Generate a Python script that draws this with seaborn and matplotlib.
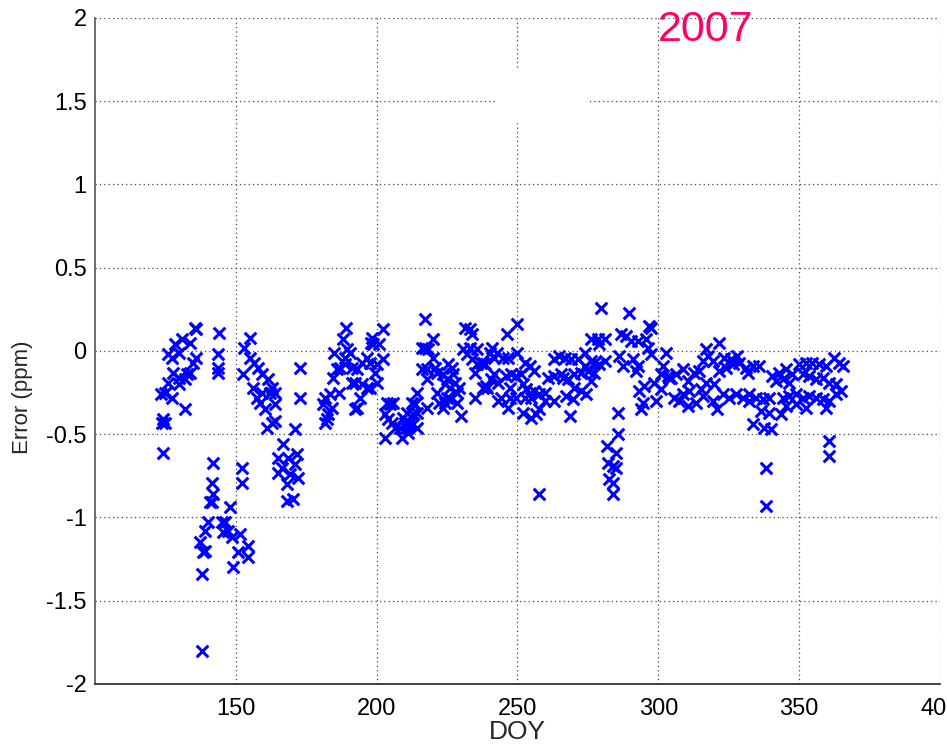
import matplotlib
matplotlib.use("Agg")
import matplotlib.pyplot as plt
from matplotlib.patches import Rectangle
import seaborn as sns
import pandas as pd

# ---- data (DOY, error in ppm) ----
doy_a = [135.5, 135.8, 144, 155, 131, 133.7, 128.4, 126, 127.3, 130, 136, 134.8, 143.6, 152.8, 155, 156.4,
         157.8, 159.2, 143.6, 143.6, 127.7, 130, 132.6, 132, 133.7, 126, 130, 152.5, 161.3, 162.8, 156, 159.2,
         162, 163.8, 123.4, 124.8, 127.3, 132, 157.4, 158.5, 160.3, 163.8, 172.7, 172.7, 124.1, 123.8, 124.8,
         162.8, 163.8, 161, 171, 124.1, 166.7, 164.9, 168.4, 171.6, 166.3, 170.9, 164.9, 169.1, 172, 168, 168,
         170.2, 141.8, 152.1, 152.1, 141.5, 141.8, 140.8, 141.5, 147.9, 140.1, 139, 145, 146.1, 145.4, 147.2,
         148.6, 151.4, 137.2, 138.3, 139, 154.3, 150.7, 154.3, 149, 137.9, 137.9]
err_a = [0.14, 0.13, 0.11, 0.08, 0.07, 0.05, 0.04, -0.02, -0.04, -0.01, -0.04, -0.07, -0.02, 0.02, -0.04, -0.07,
         -0.1, -0.14, -0.1, -0.13, -0.13, -0.16, -0.14, -0.17, -0.13, -0.19, -0.2, -0.14, -0.17, -0.22, -0.22, -0.25,
         -0.25, -0.25, -0.26, -0.25, -0.28, -0.35, -0.28, -0.31, -0.35, -0.32, -0.1, -0.28, -0.41, -0.43, -0.43,
         -0.43, -0.42, -0.46, -0.47, -0.61, -0.56, -0.64, -0.64, -0.62, -0.7, -0.68, -0.73, -0.74, -0.76, -0.8, -0.9,
         -0.89, -0.67, -0.7, -0.79, -0.79, -0.86, -0.91, -0.91, -0.94, -1.03, -1.08, -1.03, -1.03, -1.09, -1.08,
         -1.12, -1.1, -1.15, -1.21, -1.2, -1.17, -1.21, -1.24, -1.3, -1.34, -1.8]

doy_b = [189, 188, 185, 189.4, 190.4, 188.7, 198.2, 197.9, 198.6, 201, 202.1,
         186.9, 185.8, 188.7, 191.1, 192.9, 194.7, 196.5, 197.5, 200, 202.1, 199.3,
         184.4, 191.1, 192.2, 194.7, 196.5, 197.5, 200,
         181.6, 183.3, 186.5, 194, 192.9, 192.2, 180.9, 184, 182.6, 181.6, 182.3,
         203.5, 205.7, 204.6, 202.8, 203.9, 205.3, 206.4, 202.8, 208.9, 210.6, 212.4, 213.5, 212.8, 214.5,
         211.7, 212.8, 214.2, 210.6, 211, 208.2, 209.9, 209.2, 214.5, 217.7,
         217, 216, 217, 219.9, 218.1, 219.9, 216, 217.7, 217.7, 220.6, 221.6, 223.4, 225.2, 226.6, 227,
         224.8, 221.3, 224.1, 225.9, 227.7, 228.4, 229.4, 222.3, 224.1, 225.9, 228.4, 230.1, 224.8, 223.4,
         231.2, 233, 234, 230.5, 233, 235.8, 231.9, 234, 235.5, 237.2, 237.6, 234.8, 237.6, 239, 234.8]
err_b = [0.14, 0.07, -0.01, 0.01, -0.01, -0.04, 0.08, 0.05, 0.04, 0.04, 0.13,
         -0.1, -0.11, -0.08, -0.1, -0.11, -0.07, -0.04, -0.07, -0.08, -0.05, -0.13,
         -0.16, -0.19, -0.19, -0.2, -0.22, -0.22, -0.19,
         -0.28, -0.26, -0.25, -0.28, -0.34, -0.35, -0.32, -0.34, -0.38, -0.43, -0.41,
         -0.31, -0.31, -0.32, -0.38, -0.41, -0.43, -0.46, -0.52, -0.52, -0.37, -0.31, -0.32, -0.38, -0.37,
         -0.43, -0.44, -0.46, -0.46, -0.49, -0.46, -0.43, -0.4, -0.25, -0.34,
         0.19, 0.02, 0.02, 0.07, 0.01, -0.04, -0.11, -0.11, -0.17, -0.1, -0.13, -0.14, -0.08, -0.1, -0.14,
         -0.17, -0.25, -0.2, -0.22, -0.19, -0.25, -0.22, -0.31, -0.31, -0.29, -0.31, -0.39, -0.28, -0.34,
         0.14, 0.13, 0.1, 0.01, 0.02, 0.01, -0.02, -0.05, -0.08, -0.07, -0.07, -0.13, -0.22, -0.22, -0.28]

doy_c = [279.8, 289.7, 250, 246.1, 241.1, 242.9, 240.1, 244.7, 246.5, 241.8, 238.3, 250,
         252.5, 254.3, 256, 251.3, 249.5, 247.8, 246, 241.8, 240.7, 243, 238.9, 247.2, 251.9, 253.1, 254.3,
         256, 257.8, 259.6, 252.5, 254.8, 249.5, 247.2, 244.2, 243, 246.6, 251.9, 254.8, 256.6, 257.8, 259.6,
         263.1, 263.1, 264.9, 266.7, 269, 271.4, 273.8, 276.1, 277.3, 279.1, 280.9,
         260.8, 263.1, 265.5, 267.9, 270.2, 272.6, 275, 277.3, 276.1, 270.2, 272.6, 274.4, 267.3, 269.6,
         268.8, 266.1, 273.8, 257.8,
         285.6, 285.6, 281.8, 285, 282, 283.8, 285, 282.6, 283.8, 283.8,
         276.1, 278.5, 280.9, 279.1, 286.8, 288.5, 290.3, 292.7, 295.6, 296.8, 297.4, 296.2, 297.4, 286.2,
         290.9, 287.4, 292.7, 292.1, 302.7, 301.5, 300.9, 303.3, 298.6, 295, 293.3, 294.5, 293.9, 299.2,
         300.9, 304.5]
err_c = [0.26, 0.23, 0.16, 0.1, 0.02, -0.01, -0.01, -0.04, -0.04, -0.04, -0.08, -0.01,
         -0.07, -0.09, -0.12, -0.14, -0.15, -0.14, -0.15, -0.14, -0.17, -0.19, -0.21, -0.22, -0.2, -0.23, -0.25,
         -0.24, -0.26, -0.25, -0.28, -0.28, -0.28, -0.28, -0.28, -0.3, -0.34, -0.37, -0.4, -0.38, -0.35, -0.3,
         -0.3, -0.05, -0.03, -0.04, -0.05, -0.05, -0.01, -0.06, -0.07, -0.08, -0.06,
         -0.16, -0.15, -0.14, -0.17, -0.14, -0.13, -0.12, -0.13, -0.18, -0.22, -0.24, -0.26, -0.27, -0.29,
         -0.39, -0.16, -0.09, -0.86,
         -0.37, -0.5, -0.57, -0.61, -0.67, -0.69, -0.7, -0.77, -0.79, -0.86,
         0.07, 0.07, 0.07, 0.04, 0.1, 0.09, 0.06, 0.06, 0.07, 0.15, 0.14, 0.02, -0.02, -0.03,
         -0.05, -0.09, -0.09, -0.12, -0.01, -0.09, -0.14, -0.15, -0.19, -0.21, -0.24, -0.31, -0.35, -0.3,
         -0.23, -0.16]

doy_d = [321.6, 316.9, 317.5, 315.7, 319.3, 323.4, 325.8, 328.1, 328.7, 326.4, 324, 321.6, 331.1, 333.5,
         335.8, 331.7,
         308.6, 312.8, 314.5, 306.3, 303.9, 310.4, 316.9, 319.9, 315.1, 311, 308.6, 305.7, 307.4, 310.4,
         313.4, 315.7, 319.3, 321,
         322.8, 325.2, 327.5, 329.9, 332.3, 334.6, 337, 339.4, 332.3, 336.4, 339.4, 343.5, 333.5, 337.6, 340,
         340.5, 342.9, 345.3, 347.6, 341.7, 344.1, 346.5, 350, 352.4, 354.7, 357.1, 359.5, 362.4, 364.2,
         365.4, 351.2, 353.5, 355.9, 358.3, 360.6, 363, 364.8, 344.1, 346.5, 348.8, 351.2, 353.5, 355.9,
         358.3, 360.6, 345.3, 348.8, 352.4, 359.5, 363,
         360.6, 360.6, 338.2, 338.2]
err_d = [0.05, 0.01, -0.03, -0.06, -0.06, -0.04, -0.05, -0.03, -0.07, -0.08, -0.1, -0.12, -0.1, -0.09,
         -0.09, -0.13,
         -0.11, -0.13, -0.12, -0.14, -0.16, -0.18, -0.19, -0.2, -0.23, -0.24, -0.26, -0.28, -0.3, -0.33,
         -0.31, -0.27, -0.3, -0.35,
         -0.26, -0.28, -0.26, -0.28, -0.26, -0.28, -0.29, -0.28, -0.3, -0.36, -0.37, -0.38, -0.44, -0.46, -0.47,
         -0.15, -0.13, -0.11, -0.14, -0.18, -0.17, -0.19, -0.08, -0.07, -0.07, -0.08, -0.09, -0.04, -0.07,
         -0.09, -0.14, -0.15, -0.17, -0.16, -0.19, -0.2, -0.24, -0.28, -0.27, -0.26, -0.28, -0.27, -0.28,
         -0.29, -0.3, -0.33, -0.32, -0.34, -0.34, -0.26,
         -0.54, -0.63, -0.7, -0.93]

x_ticks = [150, 200, 250, 300, 350, 400]
y_ticks = [-2, -1.5, -1, -0.5, 0, 0.5, 1, 1.5, 2]
y_tick_labels = ["-2", "-1.5", "-1", "-0.5", "0", "0.5", "1", "1.5", "2"]
year_label = "2007"

df = pd.DataFrame({"DOY": doy_a + doy_b + doy_c + doy_d,
                   "Error": err_a + err_b + err_c + err_d})

sns.set_style("white")
plt.rcParams["font.family"] = ["Liberation Sans", "DejaVu Sans"]

fig = plt.figure(figsize=(9.47, 7.49), dpi=100)
ax = fig.add_axes([0.1003, 0.0868, 0.8923, 0.8892])

sns.scatterplot(data=df, x="DOY", y="Error", marker="x", color="#0000FF",
                s=70, linewidth=2.2, ax=ax, legend=False, zorder=3)

ax.set_xlim(100, 400)
ax.set_ylim(-2, 2)
ax.set_xticks(x_ticks)
ax.set_xticklabels([str(t) for t in x_ticks])
ax.set_yticks(y_ticks)
ax.set_yticklabels(y_tick_labels)

ax.grid(True, linestyle=(0, (1, 2.5)), color="#444444", linewidth=0.9)
ax.set_axisbelow(True)
for s in ["top", "right"]:
    ax.spines[s].set_visible(False)
ax.spines["left"].set_color("#555555")
ax.spines["bottom"].set_color("#222222")
ax.spines["left"].set_linewidth(1.2)
ax.spines["bottom"].set_linewidth(1.2)

ax.tick_params(axis="both", direction="in", length=5, width=1, colors="#222222",
               labelcolor="black")
ax.tick_params(axis="y", labelsize=17, pad=6)
ax.tick_params(axis="x", labelsize=17, pad=10)

ax.set_xlabel("DOY", fontsize=19, labelpad=0)
ax.set_ylabel("Error (ppm)", fontsize=16)
ax.yaxis.set_label_coords(-0.073, 0.43)

ax.text(300, 1.862, year_label, color="#FF0066", fontsize=31, ha="left", va="baseline",
        zorder=5)

# white blotch present in the reference image
ax.add_patch(Rectangle((0.475, 0.844), 0.11, 0.081, transform=ax.transAxes,
                       facecolor="white", edgecolor="none", zorder=2))

fig.savefig("out.png", dpi=100)
